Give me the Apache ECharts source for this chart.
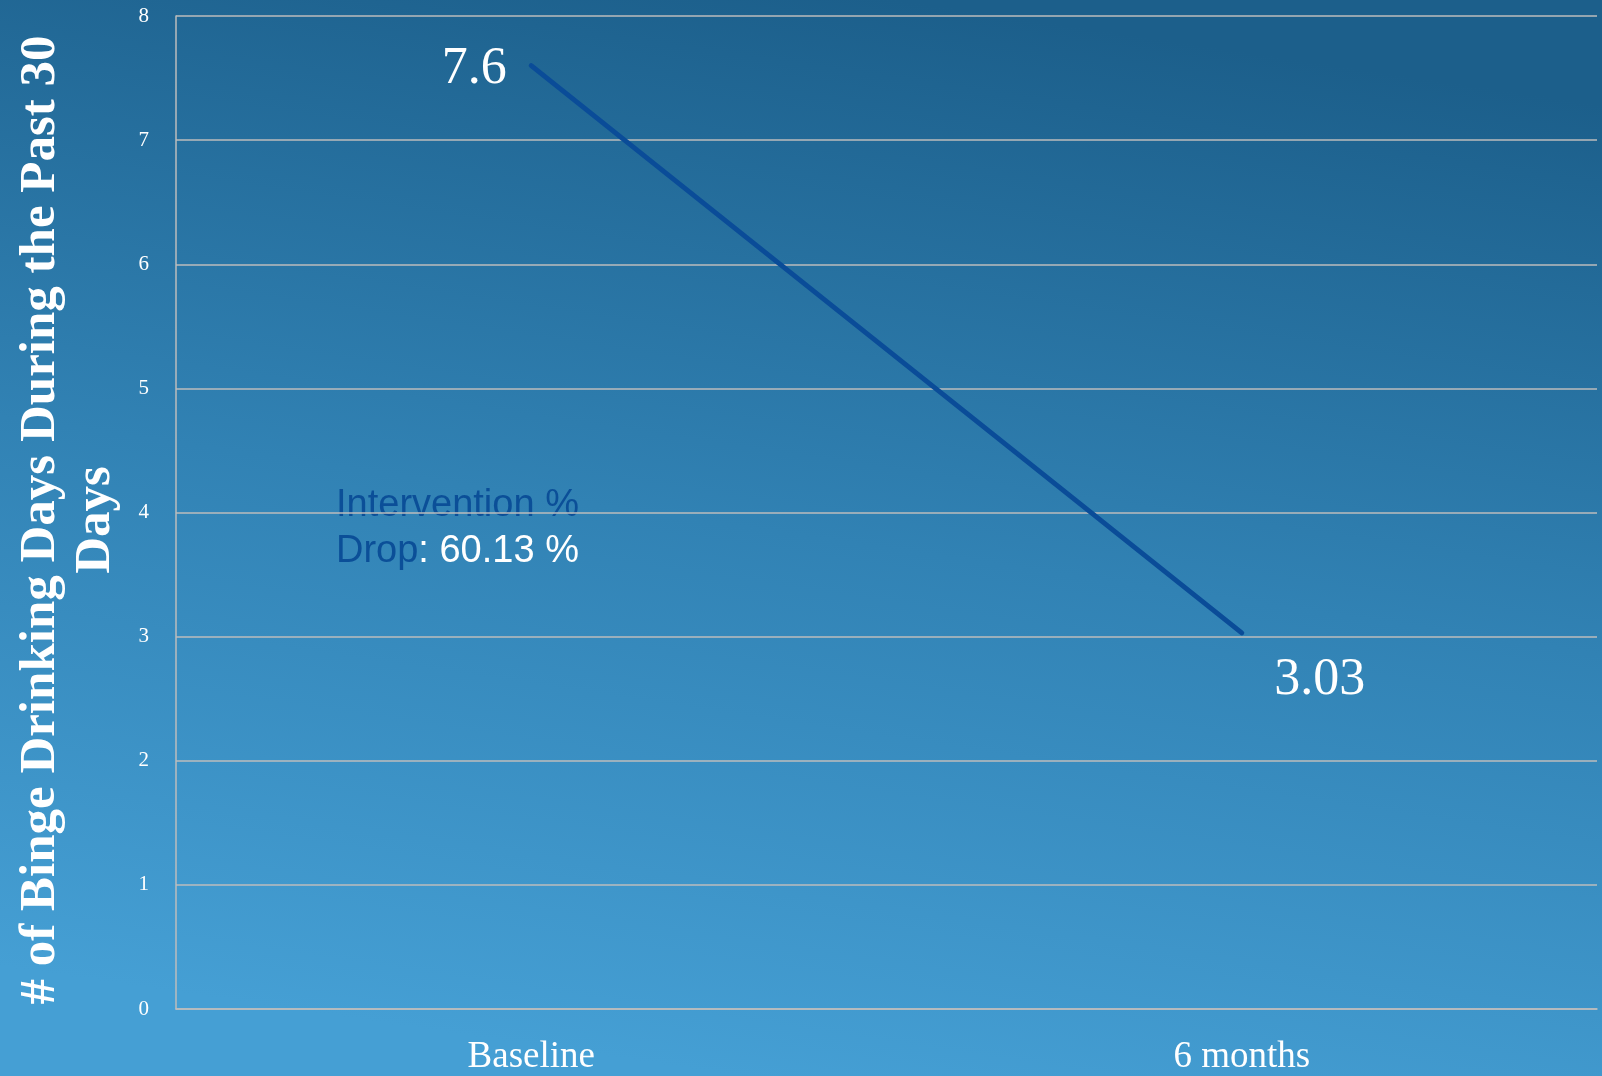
<!DOCTYPE html>
<html>
<head>
<meta charset="utf-8">
<script src="https://cdn.jsdelivr.net/npm/echarts@6/dist/echarts.min.js"></script>
<style>
html,body{margin:0;padding:0;}
#chart{width:1602px;height:1076px;}
</style>
</head>
<body>
<div id="chart"></div>
<script>
const categories = ['Baseline', '6 months'];
const values = [7.6, 3.03];
const yTicks = [0, 1, 2, 3, 4, 5, 6, 7, 8];
const yTitle = '# of Binge Drinking Days During the Past 30\nDays';
const noteLabel = 'Intervention %';
const noteDrop = 'Drop';
const noteValue = ': 60.13 %';

const chart = echarts.init(document.getElementById('chart'));
const serif = '"Liberation Serif", "DejaVu Serif", serif';
const labelStyles = [
  { position: 'left', distance: 24, offset: [0, 4] },
  { position: 'right', distance: 32, offset: [0, 47] }
];
chart.setOption({
  backgroundColor: {
    type: 'linear', x: 0.56, y: 0, x2: 0.46, y2: 1,
    colorStops: [
      { offset: 0, color: '#1c5f8b' },
      { offset: 0.5, color: '#3182b4' },
      { offset: 1, color: '#459fd4' }
    ]
  },
  animation: false,
  grid: { left: 176, right: 5, top: 16, bottom: 59 },
  xAxis: {
    type: 'category',
    data: categories,
    boundaryGap: true,
    axisLine: { show: true, lineStyle: { color: '#bdbdbd', width: 1.5 } },
    axisTick: { show: false },
    axisLabel: { color: '#ffffff', fontFamily: serif, fontSize: 37, margin: 30 }
  },
  yAxis: {
    type: 'value',
    min: yTicks[0],
    max: yTicks[yTicks.length - 1],
    interval: 1,
    axisLine: { show: true, lineStyle: { color: '#bdbdbd', width: 1.5 } },
    axisTick: { show: false },
    splitLine: { show: true, lineStyle: { color: '#bdbdbd', width: 1.5 } },
    axisLabel: { color: '#ffffff', fontFamily: serif, fontSize: 21, margin: 27 }
  },
  series: [{
    type: 'line',
    data: values.map((v, i) => ({ value: v, label: labelStyles[i] })),
    symbol: 'circle',
    symbolSize: 1,
    itemStyle: { color: '#0a4c98' },
    lineStyle: { color: '#0a4c98', width: 5, cap: 'round' },
    label: {
      show: true,
      formatter: '{c}',
      color: '#ffffff',
      fontFamily: serif,
      fontSize: 52
    }
  }],
  graphic: [
    {
      type: 'text',
      x: 68,
      y: 520,
      rotation: Math.PI / 2,
      style: {
        text: yTitle,
        fill: '#ffffff',
        font: 'bold 51px "Liberation Serif", serif',
        lineHeight: 55,
        align: 'center',
        verticalAlign: 'middle'
      }
    },
    {
      type: 'text',
      left: 336,
      top: 487,
      style: {
        text: '{a|' + noteLabel + '}\n{a|' + noteDrop + '}{b|' + noteValue + '}',
        rich: {
          a: { fill: '#0b4f98', font: '38px "Liberation Sans", sans-serif', lineHeight: 46 },
          b: { fill: '#ffffff', font: '38px "Liberation Sans", sans-serif', lineHeight: 46 }
        }
      }
    }
  ]
});
</script>
</body>
</html>
